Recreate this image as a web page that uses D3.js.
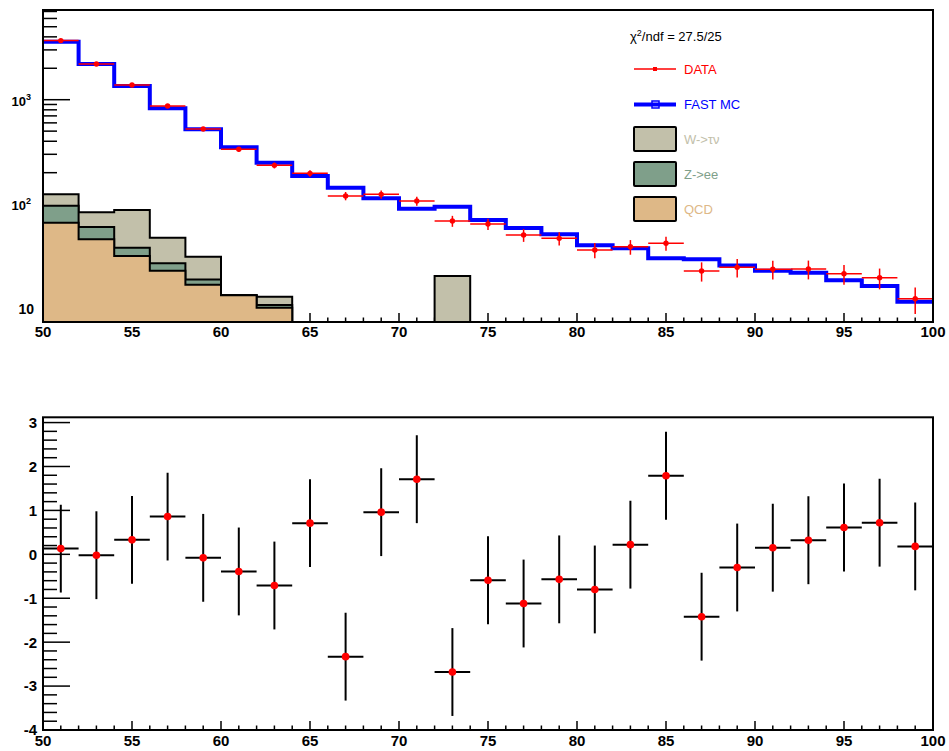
<!DOCTYPE html>
<html>
<head>
<meta charset="utf-8">
<script src="https://cdn.jsdelivr.net/npm/d3@7"></script>
<style>
  html, body { margin: 0; padding: 0; background: #fff; }
  svg { display: block; font-family: "Liberation Sans", Arial, Helvetica, sans-serif; }
</style>
</head>
<body>
<svg id="chart" width="949" height="751"></svg>
<script>
// ---------- data ----------
const binLow = [50,52,54,56,58,60,62,64,66,68,70,72,74,76,78,80,82,84,86,88,90,92,94,96,98];
const binWidth = 2;
const mcValues = [3594, 2198, 1352, 828, 520, 350, 249, 186, 143.6, 113.7, 90.4, 94.4, 70.4, 59, 51.4, 40.3, 37.7, 30.3, 29.6, 25.9, 23.0, 22.0, 18.7, 16.4, 11.6];
const dataValues = [3680, 2200, 1383, 870, 524, 335, 235, 197, 119.7, 124, 107, 68.9, 64.4, 50.6, 47, 36.3, 39, 42.2, 22.9, 24.8, 23.8, 23.9, 21.5, 19.7, 12.4];
const qcdValues = [66.4, 46.0, 31.8, 23.0, 16.9, 13.4, 10.2, 0, 0, 0, 0, 0, 0, 0, 0, 0, 0, 0, 0, 0, 0, 0, 0, 0, 0];
const zeeValues = [30.2, 14.4, 6.4, 4.1, 2.1, 0, 0.6, 0, 0, 0, 0, 0, 0, 0, 0, 0, 0, 0, 0, 0, 0, 0, 0, 0, 0];
const wtauValues = [27.4, 23.0, 49.6, 20.5, 12.3, 0, 2.2, 0, 0, 0, 0, 20.5, 0, 0, 0, 0, 0, 0, 0, 0, 0, 0, 0, 0, 0];
const pullValues = [0.13, -0.02, 0.33, 0.86, -0.08, -0.39, -0.71, 0.71, -2.33, 0.96, 1.71, -2.68, -0.59, -1.12, -0.57, -0.80, 0.22, 1.79, -1.42, -0.30, 0.15, 0.32, 0.61, 0.72, 0.18];
const pullErrors = [1,1,1,1,1,1,1,1,1,1,1,1,1,1,1,1,1,1,1,1,1,1,1,1,1];
const xTickValues = [50, 55, 60, 65, 70, 75, 80, 85, 90, 95, 100];
const logMajor = [10, 100, 1000];
const logLabels = [["10", ""], ["10", "2"], ["10", "3"]];
const pullTicks = [3, 2, 1, 0, -1, -2, -3, -4];
const chi2Text = ["\u03C7", "2", "/ndf = 27.5/25"];
const legendItems = [
  {label: "DATA", kind: "data", color: "#ff0000"},
  {label: "FAST MC", kind: "mc", color: "#0000ff"},
  {label: "W->\u03C4\u03BD", kind: "box", color: "#c2c0aa"},
  {label: "Z->ee", kind: "box", color: "#7f9f8a"},
  {label: "QCD", kind: "box", color: "#deb887"}
];
const colW = "#c2c0aa", colZ = "#7f9f8a", colQCD = "#deb887";

// ---------- layout ----------
const svg = d3.select("#chart");
const L = 43, R = 933;
const top1 = 10, bot1 = 322;
const top2 = 417.3, bot2 = 730;
const x = d3.scaleLinear().domain([50, 100]).range([L, R]);
const yLog = d3.scaleLog().domain([7.43, 7230]).range([bot1, top1]);
const yPull = d3.scaleLinear().domain([-4, 3.12]).range([bot2, top2]);

const defs = svg.append("defs");
defs.append("clipPath").attr("id", "clip1").append("rect")
  .attr("x", L).attr("y", top1).attr("width", R - L).attr("height", bot1 - top1);
defs.append("clipPath").attr("id", "clip2").append("rect")
  .attr("x", L).attr("y", top2).attr("width", R - L).attr("height", bot2 - top2);

// ---------- helpers ----------
function xTicks(g, yBase, majorLen, minorLen) {
  const minors = d3.range(51, 100, 1).filter(v => v % 5 !== 0);
  g.selectAll(null).data(xTickValues).enter().append("line")
    .attr("x1", d => x(d)).attr("x2", d => x(d))
    .attr("y1", yBase).attr("y2", yBase - majorLen)
    .attr("stroke", "#000").attr("stroke-width", 1.5);
  g.selectAll(null).data(minors).enter().append("line")
    .attr("x1", d => x(d)).attr("x2", d => x(d))
    .attr("y1", yBase).attr("y2", yBase - minorLen)
    .attr("stroke", "#000").attr("stroke-width", 1.5);
}
function xLabels(g, baseline) {
  g.selectAll(null).data(xTickValues).enter().append("text")
    .attr("x", d => x(d)).attr("y", baseline)
    .attr("text-anchor", "middle")
    .attr("font-size", 15).attr("font-weight", "bold")
    .text(d => d);
}
function stepPath(vals, yScale, floor) {
  let p = "";
  vals.forEach((v, i) => {
    const yy = yScale(Math.max(v, floor));
    const x0 = x(binLow[i]), x1 = x(binLow[i] + binWidth);
    p += (i === 0 ? "M" : "L") + x0 + "," + yy + "L" + x1 + "," + yy;
  });
  return p;
}

// ---------- TOP PANEL ----------
const g1 = svg.append("g");
const minorLog = [];
[1, 10, 100, 1000].forEach(dec => {
  for (let k = 2; k <= 9; k++) {
    const v = dec * k;
    if (v > 7.43 && v < 7230) minorLog.push(v);
  }
});
g1.selectAll(null).data(logMajor).enter().append("line")
  .attr("x1", L).attr("x2", L + 27).attr("y1", d => yLog(d)).attr("y2", d => yLog(d))
  .attr("stroke", "#000").attr("stroke-width", 1.5);
g1.selectAll(null).data(minorLog).enter().append("line")
  .attr("x1", L).attr("x2", L + 14).attr("y1", d => yLog(d)).attr("y2", d => yLog(d))
  .attr("stroke", "#000").attr("stroke-width", 1.5);
xTicks(g1, bot1, 9, 4.5);

// stacked histograms
const cumZ = qcdValues.map((q, i) => q + zeeValues[i]);
const cumW = cumZ.map((z, i) => z + wtauValues[i]);
const plot1 = g1.append("g").attr("clip-path", "url(#clip1)");
const floorLog = 7.43;
function stackPath(vals) {
  return "M" + x(50) + "," + bot1 + stepPath(vals, yLog, floorLog).replace(/^M/, "L") + "L" + x(100) + "," + bot1 + "Z";
}
[[cumW, colW], [cumZ, colZ], [qcdValues, colQCD]].forEach(([vals, col]) => {
  plot1.append("path").attr("d", stackPath(vals))
    .attr("fill", col).attr("stroke", "#000").attr("stroke-width", 2)
    .attr("stroke-linejoin", "miter");
});

// FAST MC line
plot1.append("path").attr("d", stepPath(mcValues, yLog, floorLog))
  .attr("fill", "none").attr("stroke", "#0000ff").attr("stroke-width", 4);

// DATA
const dataG = plot1.append("g");
dataValues.forEach((v, i) => {
  const cx = x(binLow[i] + binWidth / 2);
  const e = Math.sqrt(v);
  dataG.append("line").attr("x1", x(binLow[i])).attr("x2", x(binLow[i] + binWidth))
    .attr("y1", yLog(v)).attr("y2", yLog(v)).attr("stroke", "#ff0000").attr("stroke-width", 1.5);
  dataG.append("line").attr("x1", cx).attr("x2", cx)
    .attr("y1", yLog(v + e)).attr("y2", yLog(Math.max(v - e, 1)))
    .attr("stroke", "#ff0000").attr("stroke-width", 1.5);
  dataG.append("circle").attr("cx", cx).attr("cy", yLog(v)).attr("r", 2.7).attr("fill", "#ff0000");
});

// frame
g1.append("rect").attr("x", L).attr("y", top1).attr("width", R - L).attr("height", bot1 - top1)
  .attr("fill", "none").attr("stroke", "#000").attr("stroke-width", 2);

// y labels
logMajor.forEach((v, i) => {
  const t = g1.append("text").attr("text-anchor", "end").attr("font-weight", "bold");
  if (logLabels[i][1] === "") {
    t.attr("x", 34).attr("y", yLog(v) + 5).attr("font-size", 14).text(logLabels[i][0]);
  } else {
    t.attr("x", 31).attr("y", yLog(v) + 6).attr("font-size", 13);
    t.append("tspan").text(logLabels[i][0]);
    t.append("tspan").attr("font-size", 9).attr("dy", -6).text(logLabels[i][1]);
  }
});
xLabels(g1, 337);

// legend
const lg = svg.append("g").attr("font-size", 13);
const chi = lg.append("text").attr("x", 630).attr("y", 41).attr("fill", "#000");
chi.append("tspan").text(chi2Text[0]);
chi.append("tspan").attr("font-size", 9).attr("dy", -5).text(chi2Text[1]);
chi.append("tspan").attr("dy", 5).text(chi2Text[2]);
const legY = [69, 104.5, 139, 174, 209];
legendItems.forEach((it, i) => {
  const yy = legY[i];
  if (it.kind === "data") {
    lg.append("line").attr("x1", 634).attr("x2", 676).attr("y1", yy).attr("y2", yy)
      .attr("stroke", it.color).attr("stroke-width", 1.5);
    lg.append("rect").attr("x", 653).attr("y", yy - 2).attr("width", 4).attr("height", 4).attr("fill", it.color);
  } else if (it.kind === "mc") {
    lg.append("line").attr("x1", 634).attr("x2", 676).attr("y1", yy).attr("y2", yy)
      .attr("stroke", it.color).attr("stroke-width", 4);
    lg.append("rect").attr("x", 652).attr("y", yy - 3.5).attr("width", 7).attr("height", 7)
      .attr("fill", "none").attr("stroke", it.color).attr("stroke-width", 1.5);
  } else {
    lg.append("rect").attr("x", 634).attr("y", yy - 12).attr("width", 42).attr("height", 24)
      .attr("fill", it.color).attr("stroke", "#000").attr("stroke-width", 2).attr("rx", 1);
  }
  lg.append("text").attr("x", 684).attr("y", yy + 4.7)
    .attr("fill", it.color).text(it.label);
});

// ---------- BOTTOM PANEL ----------
const g2 = svg.append("g");
const pullMinor = d3.range(-4, 3.12, 0.2).map(v => Math.round(v * 10) / 10).filter(v => Math.abs(v - Math.round(v)) > 1e-6);
g2.selectAll(null).data(pullTicks).enter().append("line")
  .attr("x1", L).attr("x2", L + 27).attr("y1", d => yPull(d)).attr("y2", d => yPull(d))
  .attr("stroke", "#000").attr("stroke-width", 1.5);
g2.selectAll(null).data(pullMinor).enter().append("line")
  .attr("x1", L).attr("x2", L + 14).attr("y1", d => yPull(d)).attr("y2", d => yPull(d))
  .attr("stroke", "#000").attr("stroke-width", 1.5);
xTicks(g2, bot2, 9, 4.5);

const plot2 = g2.append("g").attr("clip-path", "url(#clip2)");
pullValues.forEach((v, i) => {
  const cx = x(binLow[i] + binWidth / 2);
  plot2.append("line").attr("x1", x(binLow[i])).attr("x2", x(binLow[i] + binWidth))
    .attr("y1", yPull(v)).attr("y2", yPull(v)).attr("stroke", "#000").attr("stroke-width", 2);
  plot2.append("line").attr("x1", cx).attr("x2", cx)
    .attr("y1", yPull(v + pullErrors[i])).attr("y2", yPull(v - pullErrors[i]))
    .attr("stroke", "#000").attr("stroke-width", 2);
  plot2.append("circle").attr("cx", cx).attr("cy", yPull(v)).attr("r", 3.8).attr("fill", "#ff0000");
});

g2.append("rect").attr("x", L).attr("y", top2).attr("width", R - L).attr("height", bot2 - top2)
  .attr("fill", "none").attr("stroke", "#000").attr("stroke-width", 2);

g2.selectAll(null).data(pullTicks).enter().append("text")
  .attr("x", 37).attr("y", d => yPull(d) + 5.4)
  .attr("text-anchor", "end").attr("font-size", 15).attr("font-weight", "bold")
  .text(d => d);
xLabels(g2, 746);
</script>
</body>
</html>
